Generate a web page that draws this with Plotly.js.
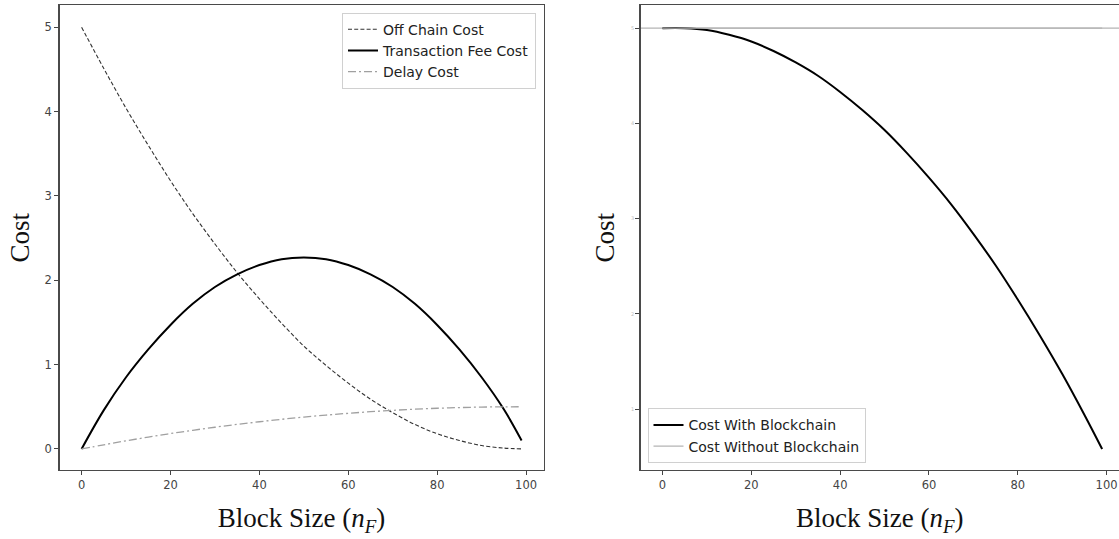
<!DOCTYPE html>
<html>
<head>
<meta charset="utf-8">
<script src="https://cdn.plot.ly/plotly-3.0.1.min.js"></script>
<style>
  html, body { margin: 0; padding: 0; background: #ffffff; }
  #chart { width: 1119px; height: 539px; }
</style>
</head>
<body>
<div id="chart"></div>
<script>
// ---- data ----
const blockSize = [0, 5, 10, 15, 20, 25, 30, 35, 40, 45, 50, 55, 60, 65, 70, 75, 80, 85, 90, 95, 99];
const offChainCost = [5.00, 4.51, 4.04, 3.60, 3.18, 2.79, 2.43, 2.09, 1.78, 1.49, 1.22, 0.99, 0.78, 0.59, 0.43, 0.29, 0.18, 0.10, 0.04, 0.01, 0.00];
const transactionFeeCost = [0.00, 0.46, 0.85, 1.18, 1.47, 1.72, 1.92, 2.07, 2.18, 2.25, 2.27, 2.25, 2.18, 2.07, 1.92, 1.72, 1.47, 1.18, 0.85, 0.47, 0.10];
const delayCost = [0.000, 0.049, 0.096, 0.140, 0.182, 0.221, 0.257, 0.291, 0.322, 0.351, 0.378, 0.401, 0.422, 0.441, 0.457, 0.471, 0.482, 0.490, 0.496, 0.499, 0.500];
const costWithBlockchain = [5.00, 5.00, 4.98, 4.93, 4.86, 4.76, 4.64, 4.50, 4.33, 4.14, 3.93, 3.69, 3.43, 3.15, 2.84, 2.51, 2.15, 1.77, 1.37, 0.94, 0.58];
const costWithoutBlockchain = 5.0;

const leftYTicks = [0, 1, 2, 3, 4, 5];
const rightYTicks = [1, 2, 3, 4, 5];
const xTicks = [0, 20, 40, 60, 80, 100];

const seriesNames = ['Off Chain Cost', 'Transaction Fee Cost', 'Delay Cost', 'Cost With Blockchain', 'Cost Without Blockchain'];

// ---- traces ----
const traces = [
  { x: blockSize, y: offChainCost, name: seriesNames[0], mode: 'lines', line: { color: '#333333', width: 1.1, dash: '4px,2.2px', shape: 'spline' }, xaxis: 'x', yaxis: 'y', legend: 'legend' },
  { x: blockSize, y: transactionFeeCost, name: seriesNames[1], mode: 'lines', line: { color: '#000000', width: 2, shape: 'spline' }, xaxis: 'x', yaxis: 'y', legend: 'legend' },
  { x: blockSize, y: delayCost, name: seriesNames[2], mode: 'lines', line: { color: '#a0a0a0', width: 1.3, dash: '8px,3px,2px,3px', shape: 'spline' }, xaxis: 'x', yaxis: 'y', legend: 'legend' },
  { x: blockSize, y: costWithBlockchain, name: seriesNames[3], mode: 'lines', line: { color: '#000000', width: 2, shape: 'spline' }, xaxis: 'x2', yaxis: 'y2', legend: 'legend2' },
  { x: [blockSize[0], blockSize[blockSize.length - 1]], y: [costWithoutBlockchain, costWithoutBlockchain], name: seriesNames[4], mode: 'lines', line: { color: '#b4b4b4', width: 1.3 }, xaxis: 'x2', yaxis: 'y2', legend: 'legend2' }
];

const W = 1119, H = 539;
const axisColor = '#4a4a4a';
const tickFont = { family: 'DejaVu Sans, sans-serif', size: 11.5, color: '#444444' };
const titleFont = { family: 'Liberation Serif, serif', size: 27, color: '#111111' };
const xTitleText = 'Block Size (<i>n</i><sub><i>F</i></sub>)';

const yDom = [1 - 470 / H, 1 - 5.3 / H];
const legendFont = { family: 'DejaVu Sans, sans-serif', size: 14, color: '#222222' };

const layout = {
  width: W, height: H,
  margin: { l: 0, r: 0, t: 0, b: 0 },
  paper_bgcolor: '#ffffff', plot_bgcolor: '#ffffff',
  showlegend: true,
  xaxis: {
    domain: [59.6 / W, 543.6 / W], range: [-4.95, 103.95],
    tickvals: xTicks, ticktext: xTicks.map(String), tickfont: tickFont,
    ticks: 'outside', ticklen: 4, tickcolor: '#444', tickwidth: 1,
    showgrid: false, zeroline: false,
    showline: true, linecolor: axisColor, linewidth: 1.4, mirror: true,
    title: { text: xTitleText, font: titleFont, standoff: 17 }, anchor: 'y'
  },
  yaxis: {
    domain: yDom, range: [-0.25, 5.26],
    tickvals: leftYTicks, ticktext: leftYTicks.map(String), tickfont: tickFont,
    ticks: 'outside', ticklen: 4, tickcolor: '#444', tickwidth: 1,
    showgrid: false, zeroline: false,
    showline: true, linecolor: axisColor, linewidth: 1.4, mirror: true,
    title: { text: 'Cost', font: titleFont, standoff: 7 }, anchor: 'x'
  },
  xaxis2: {
    domain: [640.7 / W, 1], range: [-4.91, 102.8],
    tickvals: xTicks, ticktext: xTicks.map(String), tickfont: tickFont,
    ticks: 'outside', ticklen: 4, tickcolor: '#444', tickwidth: 1,
    showgrid: false, zeroline: false,
    showline: true, linecolor: axisColor, linewidth: 1.4, mirror: true,
    title: { text: xTitleText, font: titleFont, standoff: 17 }, anchor: 'y2'
  },
  yaxis2: {
    domain: yDom, range: [0.36, 5.24],
    tickvals: rightYTicks, ticktext: rightYTicks.map(String),
    tickfont: { family: 'DejaVu Sans, sans-serif', size: 5, color: '#c0c0c0' },
    ticks: 'outside', ticklen: 4, tickcolor: '#444', tickwidth: 1,
    showgrid: false, zeroline: false,
    showline: true, linecolor: axisColor, linewidth: 1.4, mirror: false,
    title: { text: 'Cost', font: titleFont, standoff: 8 }, anchor: 'x2'
  },
  legend: {
    x: 536 / W, xanchor: 'right', y: 1 - 12.7 / H, yanchor: 'top',
    bgcolor: '#ffffff', bordercolor: '#d0d0d0', borderwidth: 1,
    font: legendFont, tracegroupgap: 0
  },
  legend2: {
    x: 647.5 / W, xanchor: 'left', y: 1 - 463.3 / H, yanchor: 'bottom',
    bgcolor: '#ffffff', bordercolor: '#d0d0d0', borderwidth: 1,
    font: legendFont, tracegroupgap: 0
  },
  shapes: [
    { type: 'line', xref: 'x2 domain', yref: 'y2', x0: 0, x1: 1, y0: costWithoutBlockchain, y1: costWithoutBlockchain, line: { color: '#b4b4b4', width: 1.3 }, layer: 'below' }
  ]
};

Plotly.newPlot('chart', traces, layout, { displayModeBar: false, staticPlot: true });
</script>
</body>
</html>
